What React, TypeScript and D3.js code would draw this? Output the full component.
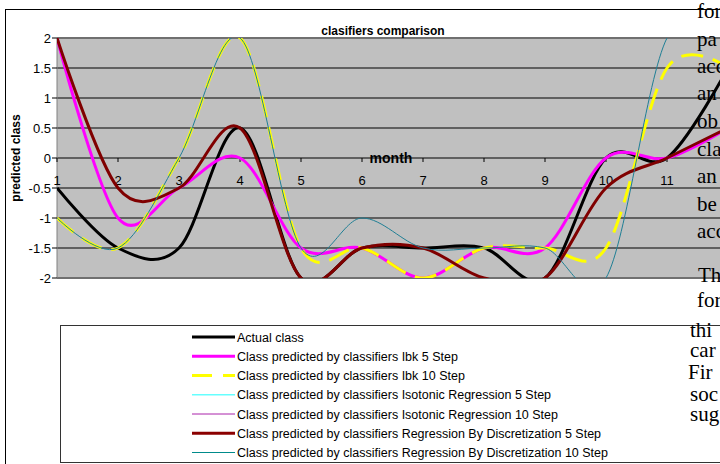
import React from "react"
import * as d3 from "d3"

// months on the category axis
const months = [1, 2, 3, 4, 5, 6, 7, 8, 9, 10, 11, 12]
const yTicks = [-2, -1.5, -1, -0.5, 0, 0.5, 1, 1.5, 2]
const xLabels = [1, 2, 3, 4, 5, 6, 7, 8, 9, 10, 11]

// series values
const actualClass = [-0.5, -1.5, -1.5, 0.5, -2, -1.5, -1.5, -1.5, -2, 0, 0, 1.5]
const ibk5 = [2, -1, -0.5, 0, -1.5, -1.5, -2, -1.5, -1.5, 0, 0, 0.5]
const ibk10 = [-1, -1.5, 0, 2, -1.5, -1.5, -2, -1.5, -1.5, -1.5, 1.5, 1.5]
const isotonic5 = [2, -0.5, -0.5, 0.5, -2, -1.5, -1.5, -2, -2, -0.5, 0, 0.5]
const isotonic10 = [2, -0.5, -0.5, 0.5, -2, -1.5, -1.5, -2, -2, -0.5, 0, 0.5]
const discret5 = [2, -0.5, -0.5, 0.5, -2, -1.5, -1.5, -2, -2, -0.5, 0, 0.5]
const discret10 = [-1, -1.5, 0, 2, -1.5, -1, -1.5, -1.5, -1.5, -2, 2, 2]

// text of the paper page that overlaps the figure on the right
const pageWords = ["for", "pa", "acc", "an", "ob", "cla", "an", "be", "acc", "Th", "for", "thi", "car", "Fir", "soc", "sug"]
const pageBaselines = [18, 46, 73, 100, 128, 156, 183, 211, 238, 282, 307, 337, 357, 379, 401, 421]
const pageLeft = [697, 697, 697, 697, 697, 697, 697, 697, 697, 698, 697, 690, 690, 688, 690, 690]

interface Series {
  name: string
  values: number[]
  color: string
  width: number
  dash?: string
}

const series: Series[] = [
  { name: "Actual class", values: actualClass, color: "#000000", width: 3 },
  { name: "Class predicted by classifiers Ibk 5 Step", values: ibk5, color: "#FF00FF", width: 3 },
  { name: "Class predicted by classifiers Ibk 10 Step", values: ibk10, color: "#FFFF00", width: 3, dash: "22,10" },
  { name: "Class predicted by classifiers Isotonic Regression 5 Step", values: isotonic5, color: "#66FFFF", width: 1.5 },
  { name: "Class predicted by classifiers Isotonic Regression 10 Step", values: isotonic10, color: "#990099", width: 1 },
  { name: "Class predicted by classifiers Regression By Discretization 5 Step", values: discret5, color: "#800000", width: 3 },
  { name: "Class predicted by classifiers Regression By Discretization 10 Step", values: discret10, color: "#1F7F95", width: 1 },
]

const legendColors = ["#000000", "#FF00FF", "#FFFF00", "#66FFFF", "#AA22AA", "#8B0000", "#008B8B"]

const App: React.FC = () => {
  const plot = { left: 57, right: 728, top: 38, bottom: 278 }

  const x = d3.scalePoint<number>().domain(months).range([plot.left, plot.right])
  const y = d3.scaleLinear().domain([-2, 2]).range([plot.bottom, plot.top])

  const line = d3
    .line<number>()
    .x((_, i) => x(months[i]) ?? 0)
    .y((d) => y(d))
    .curve(d3.curveCardinal.tension(0))

  const sans = "Arial, 'Liberation Sans', sans-serif"

  return (
    <svg
      width={720}
      height={464}
      style={{ position: "absolute", left: 0, top: 0, background: "#fff" }}
      fontFamily={sans}
    >
      <defs>
        <clipPath id="plotClip">
          <rect x={plot.left} y={plot.top} width={plot.right - plot.left} height={plot.bottom - plot.top} />
        </clipPath>
      </defs>

      {/* chart frame */}
      <rect x={5.5} y={9.5} width={730} height={470} fill="#fff" stroke="#000" strokeWidth={1} />

      {/* plot area */}
      <rect
        x={plot.left}
        y={plot.top}
        width={plot.right - plot.left}
        height={plot.bottom - plot.top}
        fill="#C0C0C0"
      />
      {yTicks.map((t) => (
        <line
          key={t}
          x1={plot.left}
          x2={plot.right}
          y1={y(t)}
          y2={y(t)}
          stroke={t === 2 || t === -2 ? "#707070" : "#000"}
          strokeWidth={t === 2 || t === -2 ? 2 : 1}
        />
      ))}
      <line x1={plot.left} x2={plot.left} y1={plot.top} y2={plot.bottom} stroke="#808080" strokeWidth={1} />

      {/* y axis ticks and labels */}
      {yTicks.map((t) => (
        <g key={t}>
          <line x1={plot.left - 5} x2={plot.left} y1={y(t)} y2={y(t)} stroke="#000" />
          <text x={plot.left - 6} y={y(t) + 4.5} textAnchor="end" fontSize={13}>
            {t}
          </text>
        </g>
      ))}

      {/* x axis on zero line */}
      {xLabels.map((m) => (
        <g key={m}>
          <line x1={x(m)} x2={x(m)} y1={y(0)} y2={y(0) + 4} stroke="#000" />
          <text x={x(m)} y={y(0) + 27} textAnchor="middle" fontSize={13}>
            {m}
          </text>
        </g>
      ))}

      {/* series */}
      <g clipPath="url(#plotClip)">
        {series.map((s) => (
          <path
            key={s.name}
            d={line(s.values) ?? ""}
            fill="none"
            stroke={s.color}
            strokeWidth={s.width}
            strokeDasharray={s.dash}
            strokeLinejoin="round"
          />
        ))}
      </g>

      {/* titles */}
      <text x={383} y={35} textAnchor="middle" fontSize={12} fontWeight="bold">
        clasifiers comparison
      </text>
      <text x={391} y={163} textAnchor="middle" fontSize={14} fontWeight="bold">
        month
      </text>
      <text
        transform={`translate(20, ${y(0)}) rotate(-90)`}
        textAnchor="middle"
        fontSize={12}
        fontWeight="bold"
      >
        predicted class
      </text>

      {/* legend */}
      <rect x={60.5} y={325.5} width={700} height={137} fill="#fff" stroke="#333" strokeWidth={1} />
      {series.map((s, i) => {
        const cy = 337 + i * 19.25
        return (
          <g key={s.name}>
            <line
              x1={192}
              x2={235}
              y1={cy}
              y2={cy}
              stroke={legendColors[i]}
              strokeWidth={s.width}
              strokeDasharray={s.dash ? "20,11" : undefined}
            />
            <text x={237} y={cy + 4.5} fontSize={12.5}>
              {s.name}
            </text>
          </g>
        )
      })}

      {/* overlapping page text */}
      {pageWords.map((w, i) => (
        <text key={i} x={pageLeft[i]} y={pageBaselines[i]} fontSize={21} fontFamily="'Times New Roman', 'Liberation Serif', serif">
          {w}
        </text>
      ))}
    </svg>
  )
}

export default App
